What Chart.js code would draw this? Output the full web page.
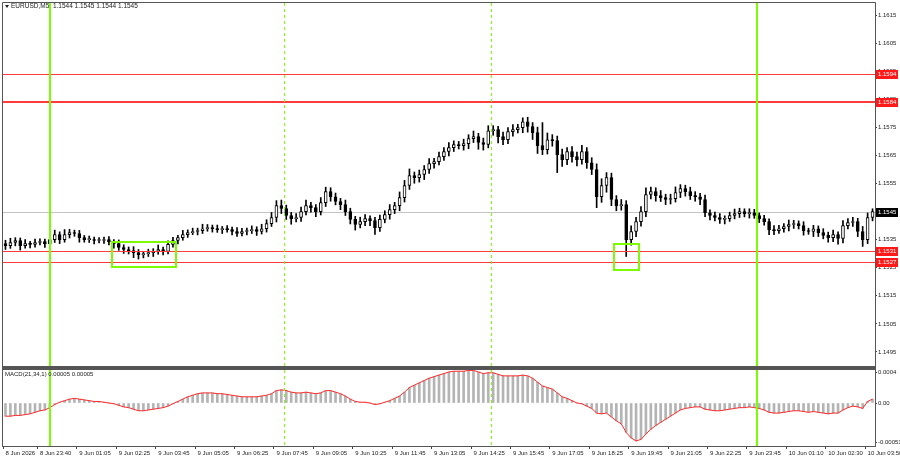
<!DOCTYPE html>
<html>
<head>
<meta charset="utf-8">
<script src="https://cdn.jsdelivr.net/npm/chart.js@4.4.1/dist/chart.umd.min.js"></script>
<style>
html, body { margin: 0; padding: 0; background: #fff; }
#wrap { position: relative; width: 900px; height: 460px; overflow: hidden; }
#main { position: absolute; left: 0; top: 0; }
#macd { position: absolute; left: 0; top: 368px; }
</style>
</head>
<body>
<div id="wrap">
  <canvas id="main" width="900" height="368"></canvas>
  <canvas id="macd" width="900" height="92"></canvas>
</div>
<script>
// EURUSD M5, one candle per 10 minutes of the picture
const firstOpen = 1.15336;
const closes = [
  1.15329,1.15340,1.15347,1.15329,1.15336,1.15333,1.15340,1.15343,1.15336,1.15350,
  1.15368,1.15350,1.15368,1.15375,1.15372,1.15357,1.15350,1.15350,1.15347,1.15347,
  1.15350,1.15343,1.15336,1.15322,1.15315,1.15311,1.15304,1.15297,1.15300,1.15304,
  1.15308,1.15315,1.15308,1.15333,1.15347,1.15357,1.15368,1.15375,1.15379,1.15382,
  1.15389,1.15393,1.15389,1.15386,1.15389,1.15386,1.15379,1.15372,1.15379,1.15382,
  1.15386,1.15379,1.15389,1.15407,1.15429,1.15471,1.15461,1.15436,1.15425,1.15429,
  1.15450,1.15471,1.15464,1.15450,1.15482,1.15521,1.15503,1.15486,1.15475,1.15450,
  1.15422,1.15404,1.15414,1.15425,1.15418,1.15393,1.15422,1.15439,1.15457,1.15471,
  1.15500,1.15543,1.15578,1.15571,1.15582,1.15600,1.15621,1.15628,1.15646,1.15664,
  1.15678,1.15689,1.15685,1.15692,1.15710,1.15717,1.15696,1.15689,1.15738,1.15742,
  1.15717,1.15706,1.15735,1.15742,1.15749,1.15770,1.15753,1.15731,1.15685,1.15671,
  1.15706,1.15703,1.15653,1.15635,1.15664,1.15646,1.15635,1.15664,1.15624,1.15600,
  1.15503,1.15543,1.15571,1.15493,1.15471,1.15475,1.15350,1.15379,1.15414,1.15450,
  1.15511,1.15521,1.15507,1.15500,1.15493,1.15496,1.15518,1.15532,1.15521,1.15507,
  1.15503,1.15493,1.15446,1.15436,1.15429,1.15422,1.15425,1.15436,1.15443,1.15450,
  1.15443,1.15446,1.15436,1.15425,1.15414,1.15386,1.15382,1.15389,1.15397,1.15404,
  1.15407,1.15400,1.15382,1.15379,1.15389,1.15375,1.15365,1.15357,1.15368,1.15354,
  1.15400,1.15411,1.15414,1.15379,1.15350,1.15429,1.15450
];
// wick lengths in points (0.00001)
const wickUp = [
  12,15,10,9,14,8,12,10,9,54,  16,10,18,12,9,11,8,13,9,10,  9,11,7,13,10,9,14,11,8,12,
  10,16,9,13,11,8,15,10,12,9,  16,11,9,13,8,11,9,14,11,9,  13,10,16,14,18,18,20,12,11,14,
  16,20,12,11,18,16,14,13,11,16,  12,11,16,14,10,12,16,14,18,12,  20,18,24,13,16,14,18,12,16,14,
  18,13,11,16,14,20,12,16,18,14,  12,16,14,18,12,14,16,14,20,82,  24,18,16,20,14,18,16,22,14,18,
  20,24,18,16,14,18,14,20,16,18,  24,16,14,18,12,16,20,14,12,16,  14,12,16,10,12,14,10,12,16,12,
  10,14,12,9,12,10,14,12,10,16,  12,10,14,9,12,10,14,12,16,10,  18,14,16,12,18,16,10
];
const wickDn = [
  14,10,12,16,9,12,10,9,14,12,  10,14,9,12,10,16,9,10,12,9,  10,12,16,10,14,12,18,16,12,10,
  14,10,12,9,10,12,9,10,7,12,  10,9,12,10,14,9,12,10,9,12,  10,14,9,12,10,16,18,14,20,12,
  14,12,16,18,12,14,16,12,18,14,  16,20,12,14,18,24,14,12,16,14,  18,16,14,20,16,18,14,16,12,14,
  16,14,12,16,18,14,24,20,12,16,  22,18,14,16,12,18,20,24,28,18,  16,20,64,24,18,20,22,16,20,18,
  39,20,24,22,18,16,60,20,18,16,  18,16,20,14,18,16,12,18,16,14,  16,18,14,16,12,14,16,10,12,14,
  12,16,10,14,12,18,14,10,12,16,  14,12,16,10,18,14,12,16,14,20,  16,12,14,18,24,14,12
];
const macdValues = [
  -0.00017,-0.00017,-0.00016,-0.00016,-0.00015,-0.00014,-0.00012,-0.00010,-0.00009,-0.00006,
  -0.00002,0.00001,0.00003,0.00005,0.00006,0.00005,0.00004,0.00003,0.00002,0.00002,
  0.00001,0.00000,-0.00001,-0.00003,-0.00005,-0.00006,-0.00008,-0.00010,-0.00010,-0.00009,
  -0.00008,-0.00007,-0.00006,-0.00004,-0.00001,0.00002,0.00005,0.00008,0.00010,0.00012,
  0.00013,0.00013,0.00013,0.00012,0.00012,0.00011,0.00010,0.00009,0.00008,0.00008,
  0.00008,0.00008,0.00009,0.00010,0.00012,0.00016,0.00017,0.00016,0.00014,0.00013,
  0.00013,0.00014,0.00013,0.00012,0.00013,0.00016,0.00016,0.00014,0.00012,0.00009,
  0.00005,0.00002,0.00001,0.00001,0.00000,-0.00002,-0.00001,0.00001,0.00003,0.00006,
  0.00009,0.00014,0.00020,0.00023,0.00026,0.00029,0.00032,0.00034,0.00036,0.00038,
  0.00040,0.00041,0.00041,0.00041,0.00042,0.00042,0.00040,0.00038,0.00039,0.00039,
  0.00037,0.00035,0.00035,0.00035,0.00035,0.00036,0.00035,0.00032,0.00027,0.00022,
  0.00020,0.00018,0.00013,0.00008,0.00006,0.00003,0.00000,-0.00001,-0.00004,-0.00007,
  -0.00013,-0.00014,-0.00013,-0.00018,-0.00023,-0.00027,-0.00038,-0.00045,-0.00049,-0.00047,
  -0.00040,-0.00034,-0.00029,-0.00025,-0.00021,-0.00017,-0.00013,-0.00009,-0.00007,-0.00006,
  -0.00005,-0.00005,-0.00008,-0.00009,-0.00010,-0.00010,-0.00009,-0.00008,-0.00007,-0.00006,
  -0.00006,-0.00005,-0.00006,-0.00007,-0.00009,-0.00012,-0.00013,-0.00013,-0.00012,-0.00011,
  -0.00010,-0.00010,-0.00011,-0.00012,-0.00011,-0.00012,-0.00013,-0.00014,-0.00013,-0.00013,
  -0.00009,-0.00006,-0.00004,-0.00005,-0.00007,0.00002,0.00005
];
const timeTicks = ['8 Jun 2026','8 Jun 23:40','9 Jun 01:05','9 Jun 02:25','9 Jun 03:45','9 Jun 05:05',
  '9 Jun 06:25','9 Jun 07:45','9 Jun 09:05','9 Jun 10:25','9 Jun 11:45','9 Jun 13:05','9 Jun 14:25',
  '9 Jun 15:45','9 Jun 17:05','9 Jun 18:25','9 Jun 19:45','9 Jun 21:05','9 Jun 22:25','9 Jun 23:45',
  '10 Jun 01:10','10 Jun 02:30','10 Jun 03:50'];
const priceTicks = [1.1495,1.1505,1.1515,1.1525,1.1535,1.1545,1.1555,1.1565,1.1575,1.1585,1.1595,1.1605,1.1615];
const macdTicks = [-0.00051, 0, 0.0004];
const macdTickLabels = ['-0.00051', '0.00', '0.0004'];
const levels = [1.1594, 1.1584, 1.1531, 1.1527];
const lastPrice = 1.1545;
const titleOhlc = ['1.1544', '1.1545', '1.1544', '1.1545'];
const macdLast = ['0.00005', '0.00005'];
const dayBreaks = [9, 152.5];       // candle index of midnight
const sessionOpens = [56.5, 98.5];  // 08:00 and 15:00
const zones = [[21.6, 34.6, 1.15342, 1.15253], [123.5, 128.6, 1.15335, 1.15242]];

const FONT = '"Liberation Sans", Arial, sans-serif';
Chart.defaults.font.family = FONT;
Chart.defaults.font.size = 6;
Chart.defaults.color = '#222';

const labels = closes.map((c, i) => i === 0 ? timeTicks[0] :
  (i >= 7 && (i - 7) % 8 === 0 ? timeTicks[1 + (i - 7) / 8] : ''));
const opens = closes.map((c, i) => i === 0 ? firstOpen : closes[i - 1]);
const highs = closes.map((c, i) => Math.max(opens[i], c) + wickUp[i] * 0.00001);
const lows = closes.map((c, i) => Math.min(opens[i], c) - wickDn[i] * 0.00001);

const GREEN = '#7cfc00';
const FRAME = '#555';

function drawVerticals(chart) {
  const {ctx, chartArea: a, scales: {x}} = chart;
  ctx.save();
  ctx.strokeStyle = GREEN;
  ctx.lineWidth = 2;
  dayBreaks.forEach(v => {
    const px = Math.round(x.getPixelForValue(v));
    ctx.beginPath(); ctx.moveTo(px, a.top); ctx.lineTo(px, a.bottom); ctx.stroke();
  });
  ctx.lineWidth = 1;
  ctx.setLineDash([3, 3]);
  sessionOpens.forEach(v => {
    const px = Math.round(x.getPixelForValue(v)) + 0.5;
    ctx.beginPath(); ctx.moveTo(px, a.top); ctx.lineTo(px, a.bottom); ctx.stroke();
  });
  ctx.restore();
}

function priceBox(ctx, yPix, text, bg, left) {
  ctx.fillStyle = bg;
  ctx.fillRect(left + 1, Math.round(yPix) - 4, 22, 9);
  ctx.fillStyle = '#fff';
  ctx.textAlign = 'left';
  ctx.textBaseline = 'middle';
  ctx.fillText(text, left + 3, Math.round(yPix) + 0.5);
}

const mainOverlay = {
  id: 'mainOverlay',
  beforeDatasetsDraw(chart) {
    const {ctx, chartArea: a, scales: {y}} = chart;
    ctx.save();
    ctx.strokeStyle = '#c4c4c4';
    ctx.lineWidth = 1;
    const py = Math.round(y.getPixelForValue(lastPrice)) + 0.5;
    ctx.beginPath(); ctx.moveTo(a.left, py); ctx.lineTo(a.right, py); ctx.stroke();
    ctx.restore();
  },
  afterDatasetsDraw(chart) {
    const {ctx, chartArea: a, scales: {x, y}} = chart;
    ctx.save();
    ctx.strokeStyle = '#ff3b3b';
    levels.forEach((v, i) => {
      ctx.lineWidth = i === 1 ? 2 : 1;
      const py = Math.round(y.getPixelForValue(v)) + (i === 1 ? 0 : 0.5);
      ctx.beginPath(); ctx.moveTo(a.left, py); ctx.lineTo(a.right, py); ctx.stroke();
    });
    ctx.restore();
    drawVerticals(chart);
    ctx.save();
    ctx.strokeStyle = GREEN;
    ctx.lineWidth = 2;
    zones.forEach(z => {
      const x0 = x.getPixelForValue(z[0]), x1 = x.getPixelForValue(z[1]);
      const y0 = y.getPixelForValue(z[2]), y1 = y.getPixelForValue(z[3]);
      ctx.strokeRect(Math.round(x0), Math.round(y0), Math.round(x1 - x0), Math.round(y1 - y0));
    });
    ctx.restore();
  },
  afterDraw(chart) {
    const {ctx, chartArea: a, scales: {y}} = chart;
    ctx.save();
    ctx.strokeStyle = FRAME;
    ctx.lineWidth = 1;
    ctx.beginPath();
    ctx.moveTo(a.left - 0.5, a.bottom); ctx.lineTo(a.left - 0.5, a.top - 0.5);
    ctx.lineTo(a.right + 0.5, a.top - 0.5); ctx.lineTo(a.right + 0.5, a.bottom);
    ctx.stroke();
    ctx.fillStyle = FRAME;
    ctx.fillRect(a.left - 1, a.bottom, a.right - a.left + 2, 2);
    ctx.font = '6px ' + FONT;
    levels.forEach(v => priceBox(ctx, y.getPixelForValue(v), v.toFixed(4), '#ff1a1a', a.right));
    priceBox(ctx, y.getPixelForValue(lastPrice), lastPrice.toFixed(4), '#000', a.right);
    // title
    ctx.fillStyle = '#222';
    ctx.beginPath(); ctx.moveTo(5, 5); ctx.lineTo(9, 5); ctx.lineTo(7, 8); ctx.closePath(); ctx.fill();
    ctx.font = '6.5px ' + FONT;
    ctx.textAlign = 'left';
    ctx.textBaseline = 'middle';
    ctx.fillText('EURUSD,M5  ' + titleOhlc.join(' '), 11, 6.5);
    ctx.restore();
  }
};

const macdOverlay = {
  id: 'macdOverlay',
  afterDatasetsDraw(chart) {
    drawVerticals(chart);
  },
  afterDraw(chart) {
    const {ctx, chartArea: a} = chart;
    ctx.save();
    ctx.strokeStyle = FRAME;
    ctx.lineWidth = 1;
    ctx.strokeRect(a.left - 0.5, a.top - 0.5, a.right - a.left + 1, a.bottom - a.top + 1);
    ctx.fillStyle = FRAME;
    ctx.fillRect(a.left - 1, 0, a.right - a.left + 2, 1);
    ctx.fillStyle = '#222';
    ctx.font = '6px ' + FONT;
    ctx.textAlign = 'left';
    ctx.textBaseline = 'middle';
    ctx.fillText('MACD(21,34,1) ' + macdLast.join(' '), 5, 6.5);
    ctx.restore();
  }
};

new Chart(document.querySelector('#main').getContext('2d'), {
  type: 'bar',
  data: {
    labels: labels,
    datasets: [
      {
        label: 'body',
        data: closes.map((c, i) => [opens[i], c]),
        grouped: false,
        barThickness: 3,
        minBarLength: 1,
        backgroundColor: closes.map((c, i) => c >= opens[i] ? '#ffffff' : '#000000'),
        borderColor: '#000',
        borderWidth: 1,
        borderSkipped: false
      },
      {
        label: 'wick',
        data: closes.map((c, i) => [lows[i], highs[i]]),
        grouped: false,
        barThickness: 1,
        backgroundColor: '#000'
      }
    ]
  },
  options: {
    responsive: false,
    animation: false,
    layout: { padding: { left: 3, top: 3, right: 0, bottom: 2 } },
    plugins: { legend: { display: false }, tooltip: { enabled: false } },
    scales: {
      x: { display: false },
      y: {
        position: 'right',
        min: 1.1490,
        max: 1.16193,
        afterFit(s) { s.width = 25; s.paddingTop = 0; s.paddingBottom = 0; },
        afterBuildTicks(s) { s.ticks = priceTicks.map(v => ({ value: v })); },
        ticks: { callback: v => v.toFixed(4), padding: 1, color: '#222' },
        grid: { drawOnChartArea: false, tickLength: 2, color: '#444' },
        border: { display: false }
      }
    }
  },
  plugins: [mainOverlay]
});

new Chart(document.querySelector('#macd').getContext('2d'), {
  type: 'bar',
  data: {
    labels: labels,
    datasets: [
      {
        type: 'line',
        label: 'signal',
        data: macdValues,
        borderColor: '#ff2a2a',
        borderWidth: 1,
        pointRadius: 0,
        tension: 0
      },
      {
        label: 'macd',
        data: macdValues,
        grouped: false,
        barThickness: 2,
        backgroundColor: '#b4b4b4'
      }
    ]
  },
  options: {
    responsive: false,
    animation: false,
    layout: { padding: { left: 3, top: 2, right: 0, bottom: 0 } },
    plugins: { legend: { display: false }, tooltip: { enabled: false } },
    scales: {
      x: {
        afterFit(s) { s.height = 14; s.paddingLeft = 0; s.paddingRight = 0; },
        ticks: {
          autoSkip: false, maxRotation: 0, minRotation: 0, align: 'start', padding: 1,
          callback: (v, i) => labels[i], color: '#222'
        },
        grid: {
          drawOnChartArea: false, tickLength: 3,
          color: c => (c.tick && c.tick.label) ? '#444' : 'rgba(0,0,0,0)'
        },
        border: { display: false }
      },
      y: {
        position: 'right',
        min: -0.000555,
        max: 0.000426,
        afterFit(s) { s.width = 25; s.paddingTop = 0; s.paddingBottom = 0; },
        afterBuildTicks(s) { s.ticks = macdTicks.map(v => ({ value: v })); },
        ticks: { callback: v => macdTickLabels[macdTicks.indexOf(v)], padding: 1, color: '#222' },
        grid: { drawOnChartArea: false, tickLength: 2, color: '#444' },
        border: { display: false }
      }
    }
  },
  plugins: [macdOverlay]
});
</script>
</body>
</html>
